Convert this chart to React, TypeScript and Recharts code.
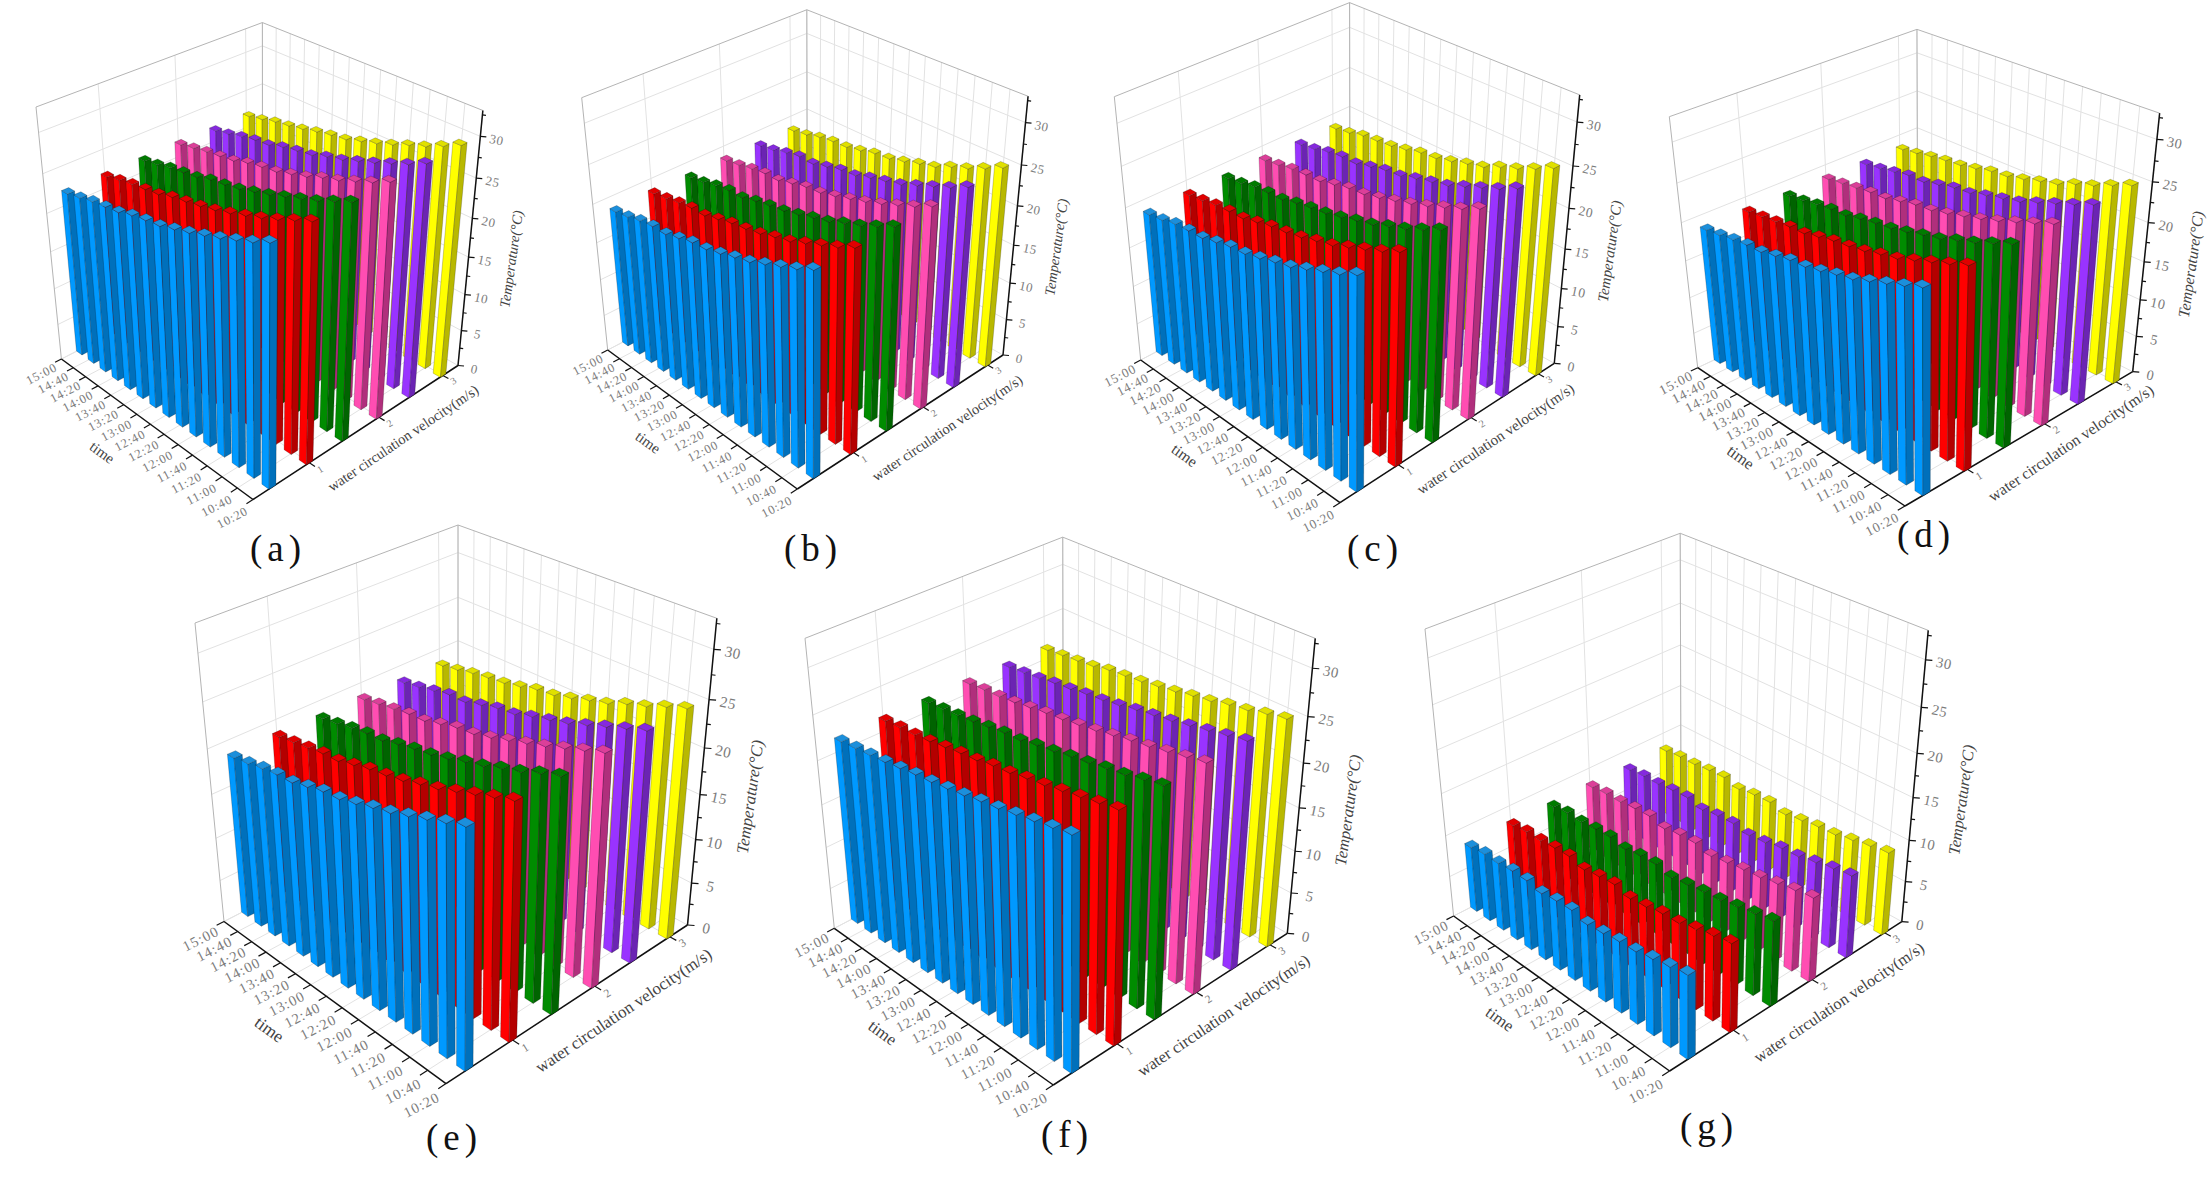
import React from 'react';
import { ScatterChart, Scatter, XAxis, YAxis } from 'recharts';

const PAGE_W = 2211;
const PAGE_H = 1179;
const Z_MAX = 33;

const timeLabels = ['10:20', '10:40', '11:00', '11:20', '11:40', '12:00', '12:20', '12:40', '13:00', '13:20', '13:40', '14:00', '14:20', '14:40', '15:00'];
const zTicks = [0, 5, 10, 15, 20, 25, 30];
const velocityTicks = [1, 3, 5]; // index of the series that sits on "1", "2", "3"
const velocityLabels = ['1', '2', '3'];

// one row per series (0.5 -> 3 m/s), values in time order 10:20 -> 15:00
const tempsA = [
  [30.0, 29.0, 28.2, 27.4, 26.7, 26.0, 25.4, 24.8, 24.5, 24.1, 23.5, 23.2, 22.9, 22.4, 22.0],
  [30.0, 29.1, 28.2, 27.4, 26.7, 26.0, 25.4, 24.9, 24.5, 24.1, 23.5, 23.2, 22.9, 22.5, 22.0],
  [29.9, 29.0, 28.1, 27.4, 26.7, 26.0, 25.4, 24.8, 24.4, 24.1, 23.5, 23.2, 22.9, 22.4, 22.0],
  [30.0, 29.0, 28.2, 27.4, 26.8, 26.0, 25.4, 24.8, 24.5, 24.1, 23.5, 23.2, 22.9, 22.5, 22.1],
  [30.0, 29.0, 28.2, 27.4, 26.7, 26.0, 25.5, 24.8, 24.5, 24.1, 23.5, 23.3, 22.9, 22.4, 22.0],
  [30.1, 29.1, 28.2, 27.5, 26.7, 26.0, 25.4, 24.8, 24.5, 24.1, 23.6, 23.2, 22.9, 22.4, 22.0],
];
const tempsB = [
  [25.8, 24.8, 24.0, 23.2, 22.4, 21.9, 21.3, 20.8, 20.6, 20.1, 19.6, 19.6, 19.3, 18.8, 18.5],
  [25.8, 24.8, 24.0, 23.2, 22.4, 21.9, 21.3, 20.9, 20.6, 20.1, 19.6, 19.6, 19.3, 18.9, 18.6],
  [25.8, 24.8, 23.9, 23.2, 22.4, 21.9, 21.3, 20.8, 20.5, 20.1, 19.6, 19.6, 19.3, 18.8, 18.5],
  [25.8, 24.8, 24.0, 23.2, 22.5, 21.9, 21.3, 20.8, 20.6, 20.1, 19.6, 19.6, 19.3, 18.9, 18.6],
  [25.8, 24.8, 24.0, 23.2, 22.4, 21.9, 21.4, 20.8, 20.6, 20.1, 19.6, 19.7, 19.3, 18.8, 18.5],
  [25.9, 24.9, 24.0, 23.3, 22.4, 21.9, 21.3, 20.8, 20.6, 20.1, 19.7, 19.6, 19.3, 18.8, 18.5],
];
const tempsC = [
  [25.9, 24.9, 24.1, 23.3, 22.5, 22.0, 21.4, 20.9, 20.7, 20.2, 19.7, 19.6, 19.4, 18.9, 18.6],
  [25.9, 24.9, 24.1, 23.3, 22.5, 22.0, 21.4, 21.0, 20.7, 20.2, 19.7, 19.6, 19.4, 19.0, 18.7],
  [25.9, 24.9, 24.0, 23.3, 22.5, 22.0, 21.4, 20.9, 20.6, 20.2, 19.7, 19.6, 19.4, 18.9, 18.6],
  [25.9, 24.9, 24.1, 23.3, 22.6, 22.0, 21.4, 20.9, 20.7, 20.2, 19.7, 19.6, 19.4, 19.0, 18.7],
  [25.9, 24.9, 24.1, 23.3, 22.5, 22.0, 21.5, 20.9, 20.7, 20.2, 19.7, 19.7, 19.4, 18.9, 18.6],
  [26.0, 25.0, 24.1, 23.4, 22.5, 22.0, 21.4, 20.9, 20.7, 20.2, 19.8, 19.6, 19.4, 18.9, 18.6],
];
const tempsD = [
  [25.7, 24.8, 24.0, 23.2, 22.4, 21.9, 21.3, 20.8, 20.6, 20.1, 19.6, 19.5, 19.2, 18.8, 18.5],
  [25.7, 24.8, 24.0, 23.2, 22.4, 21.9, 21.3, 20.9, 20.6, 20.1, 19.6, 19.5, 19.2, 18.9, 18.6],
  [25.7, 24.8, 23.9, 23.2, 22.4, 21.9, 21.3, 20.8, 20.5, 20.1, 19.6, 19.5, 19.2, 18.8, 18.5],
  [25.7, 24.8, 24.0, 23.2, 22.5, 21.9, 21.3, 20.8, 20.6, 20.1, 19.6, 19.5, 19.2, 18.9, 18.6],
  [25.7, 24.8, 24.0, 23.2, 22.4, 21.9, 21.4, 20.8, 20.6, 20.1, 19.6, 19.6, 19.2, 18.8, 18.5],
  [25.8, 24.9, 24.0, 23.3, 22.4, 21.9, 21.3, 20.8, 20.6, 20.1, 19.7, 19.5, 19.2, 18.8, 18.5],
];
const tempsE = [
  [25.2, 24.5, 23.8, 23.1, 22.4, 21.9, 21.3, 20.8, 20.6, 20.1, 19.6, 19.5, 19.2, 18.8, 18.5],
  [25.2, 24.5, 23.8, 23.1, 22.4, 21.9, 21.3, 20.9, 20.6, 20.1, 19.6, 19.5, 19.2, 18.9, 18.6],
  [25.2, 24.5, 23.7, 23.1, 22.4, 21.9, 21.3, 20.8, 20.5, 20.1, 19.6, 19.5, 19.2, 18.8, 18.5],
  [25.2, 24.5, 23.8, 23.1, 22.5, 21.9, 21.3, 20.8, 20.6, 20.1, 19.6, 19.5, 19.2, 18.9, 18.6],
  [25.2, 24.5, 23.8, 23.1, 22.4, 21.9, 21.4, 20.8, 20.6, 20.1, 19.6, 19.6, 19.2, 18.8, 18.5],
  [25.3, 24.6, 23.8, 23.2, 22.4, 21.9, 21.3, 20.8, 20.6, 20.1, 19.7, 19.5, 19.2, 18.8, 18.5],
];
const tempsF = [
  [25.9, 25.5, 25.1, 24.7, 24.3, 24.0, 23.6, 23.3, 23.0, 22.8, 22.5, 22.2, 22.0, 21.8, 21.6],
  [25.9, 25.5, 25.1, 24.7, 24.3, 24.0, 23.6, 23.4, 23.0, 22.8, 22.5, 22.2, 22.0, 21.9, 21.7],
  [25.9, 25.5, 25.0, 24.7, 24.3, 24.0, 23.6, 23.3, 22.9, 22.8, 22.5, 22.2, 22.0, 21.8, 21.6],
  [25.9, 25.5, 25.1, 24.7, 24.4, 24.0, 23.6, 23.3, 23.0, 22.8, 22.5, 22.2, 22.0, 21.9, 21.7],
  [25.9, 25.5, 25.1, 24.7, 24.3, 24.0, 23.7, 23.3, 23.0, 22.8, 22.5, 22.3, 22.0, 21.8, 21.6],
  [26.0, 25.6, 25.1, 24.8, 24.3, 24.0, 23.6, 23.3, 23.0, 22.8, 22.6, 22.2, 22.0, 21.8, 21.6],
];
const tempsG = [
  [9.8, 9.4, 9.0, 8.6, 8.5, 8.2, 8.0, 8.5, 8.4, 8.1, 8.5, 8.5, 8.3, 8.3, 8.0],
  [10.4, 10.0, 9.5, 9.0, 8.9, 8.5, 8.3, 8.8, 8.6, 8.3, 8.8, 8.7, 8.5, 8.5, 8.2],
  [10.1, 9.7, 9.3, 8.9, 8.7, 8.4, 8.1, 8.6, 8.5, 8.2, 8.6, 8.5, 8.3, 8.4, 8.1],
  [10.0, 9.7, 9.3, 8.9, 8.7, 8.4, 8.1, 8.6, 8.5, 8.2, 8.7, 8.6, 8.4, 8.4, 8.2],
  [9.9, 9.6, 9.2, 8.8, 8.7, 8.3, 8.1, 8.5, 8.4, 8.1, 8.6, 8.5, 8.3, 8.3, 8.1],
  [10.0, 9.7, 9.3, 8.9, 8.8, 8.5, 8.2, 8.7, 8.6, 8.3, 8.8, 8.7, 8.5, 8.5, 8.3],
];

const seriesColors = [
  { left: '#0099FF', right: '#0070BB', top: '#1C8FDB' },
  { left: '#FF0000', right: '#B40000', top: '#E00000' },
  { left: '#008C00', right: '#006400', top: '#007A00' },
  { left: '#FF4DB2', right: '#B02F7C', top: '#DB3F99' },
  { left: '#9933FF', right: '#6B24B3', top: '#8529DE' },
  { left: '#FFFF00', right: '#B8B800', top: '#E0E000' },
];

type Pt = [number, number];
interface Frame {
  name: string;
  temps: number[][];
  L: Pt; F: Pt; R: Pt; B: Pt; topL: Pt; topR: Pt;
  captionAt: Pt;
}

const frames: Frame[] = [
  { name: '(a)', temps: tempsA, L: [61.4, 359], F: [253, 499.5], R: [458, 365.5], B: [262.5, 256], topL: [36, 107], topR: [483, 109], captionAt: [278, 553] },
  { name: '(b)', temps: tempsB, L: [607.7, 350], F: [797.3, 489], R: [1003, 355], B: [807.3, 246], topL: [581.7, 97.7], topR: [1027.7, 100], captionAt: [813, 553] },
  { name: '(c)', temps: tempsC, L: [1140.7, 360], F: [1340, 502.7], R: [1554.3, 363.3], B: [1350, 250], topL: [1114.3, 96.7], topR: [1579.3, 99], captionAt: [1375, 553] },
  { name: '(d)', temps: tempsD, L: [1697.7, 367.7], F: [1905, 506], R: [2132.7, 371.7], B: [1917.7, 264], topL: [1669.3, 116.7], topR: [2159, 119.3], captionAt: [1926, 539] },
  { name: '(e)', temps: tempsE, L: [224, 921.5], F: [446, 1083.6], R: [687.5, 925], B: [458, 801], topL: [195, 623], topR: [716, 627], captionAt: [454, 1142] },
  { name: '(f)', temps: tempsF, L: [834.3, 928.3], F: [1053.3, 1085], R: [1287.3, 933.3], B: [1063.3, 809], topL: [805, 638.3], topR: [1315, 641], captionAt: [1067, 1139] },
  { name: '(g)', temps: tempsG, L: [1453.6, 916], F: [1669.6, 1071], R: [1901.8, 921.6], B: [1681, 800], topL: [1425, 629], topR: [1928, 633], captionAt: [1709, 1131] },
];

// perspective camera built from the corners of the plot box
// u: 0 at 15:00 edge, 1 at 10:20 edge. v: 0 at time axis, 1 at back wall. z: temperature
const makeProjection = (f: Frame) => {
  const [x0, y0] = f.L, [x1, y1] = f.F, [x2, y2] = f.R, [x3, y3] = f.B;
  const dx1 = x1 - x2, dx2 = x3 - x2, sx = x0 - x1 + x2 - x3;
  const dy1 = y1 - y2, dy2 = y3 - y2, sy = y0 - y1 + y2 - y3;
  const den = dx1 * dy2 - dx2 * dy1;
  const g = (sx * dy2 - dx2 * sy) / den;
  const h = (dx1 * sy - sx * dy1) / den;
  const a = x1 - x0 + g * x1, b = x3 - x0 + h * x3;
  const d = y1 - y0 + g * y1, e = y3 - y0 + h * y3;

  // vanishing point of the verticals
  const [ax, ay] = f.topL, [cx, cy] = f.topR;
  const m1 = (x0 - ax) / (y0 - ay), m2 = (x2 - cx) / (y2 - cy);
  const Vy = (cx - ax + m1 * ay - m2 * cy) / (m1 - m2);
  const Vx = ax + m1 * (Vy - ay);
  const s = (ay - y0) / (Vy - ay);

  return (u: number, v: number, temp: number): Pt => {
    const z = temp / Z_MAX;
    const w = g * u + h * v + 1 + s * z;
    return [(a * u + b * v + x0 + s * Vx * z) / w, (d * u + e * v + y0 + s * Vy * z) / w];
  };
};

const uOf = (timeIndex: number) => 0.985 - (0.97 * timeIndex) / 14;
const vOf = (seriesIndex: number) => (seriesIndex + 0.5) / 6;
const HALF_U = 0.0165;
const HALF_V = 0.0148;

const buildPanel = (f: Frame) => {
  const P = makeProjection(f);
  const grid: any[] = [];
  const axes: any[] = [];
  const bars: any[] = [];
  const texts: any[] = [];
  const seg = (list: any[], p: Pt, q: Pt, color: string, w: number) =>
    list.push({ x: p[0], y: p[1], x2: q[0], y2: q[1], color, w });
  const scale = Math.abs(f.R[0] - f.L[0]) / 397;
  const gridColor = '#E2E2E2';
  const edgeColor = '#B4B4B4';
  const labelColor = '#7C7C7C';

  // walls and floor
  zTicks.slice(1).forEach((t) => {
    seg(grid, P(0, 0, t), P(0, 1, t), gridColor, 1);
    seg(grid, P(0, 1, t), P(1, 1, t), gridColor, 1);
  });
  timeLabels.forEach((_, i) => {
    const u = 1 - i / 14;
    seg(grid, P(u, 1, 0), P(u, 1, Z_MAX), gridColor, 1);
    seg(grid, P(u, 0, 0), P(u, 1, 0), gridColor, 1);
  });
  velocityTicks.forEach((si) => {
    const v = vOf(si);
    seg(grid, P(0, v, 0), P(0, v, Z_MAX), gridColor, 1);
    seg(grid, P(0, v, 0), P(1, v, 0), gridColor, 1);
  });
  seg(grid, P(0, 0, 0), P(0, 1, 0), gridColor, 1);
  seg(grid, P(0, 1, 0), P(1, 1, 0), gridColor, 1);
  seg(grid, P(0, 0, 0), P(0, 0, Z_MAX), edgeColor, 1);
  seg(grid, P(0, 1, 0), P(0, 1, Z_MAX), edgeColor, 1);
  seg(grid, P(0, 0, Z_MAX), P(0, 1, Z_MAX), edgeColor, 1);
  seg(grid, P(0, 1, Z_MAX), P(1, 1, Z_MAX), edgeColor, 1);

  // axes
  seg(axes, P(0, 0, 0), P(1, 0, 0), '#111', 1.5);
  seg(axes, P(1, 0, 0), P(1, 1, 0), '#111', 1.5);
  seg(axes, P(1, 1, 0), P(1, 1, Z_MAX), '#111', 1.5);
  timeLabels.forEach((label, i) => {
    const u = 1 - i / 14;
    seg(axes, P(u, 0, 0), P(u, -0.028, 0), '#111', 1.2);
    const [x, y] = P(u, -0.085, 0);
    texts.push({ x, y: y + 6 * scale, text: label, angle: -27, size: 12.5 * scale, color: labelColor, spacing: 0.9 * scale });
  });
  velocityTicks.forEach((si, i) => {
    seg(axes, P(1, vOf(si), 0), P(1.025, vOf(si), 0), '#111', 1.2);
    const [x, y] = P(1.05, vOf(si), 0);
    texts.push({ x, y, text: velocityLabels[i], angle: -32, size: 10 * scale, color: labelColor });
  });
  for (let t = 0; t <= 32.5; t += 2.5) {
    const major = t % 5 === 0;
    const [px, py] = P(1, 1, t);
    seg(axes, [px, py], [px + (major ? 6 : 3.5) * scale, py + 0.5], '#111', 1.2);
    if (major) {
      texts.push({ x: px + 16 * scale, y: py + 5, text: String(t), angle: 12, size: 13 * scale, color: labelColor, spacing: 0.5 });
    }
  }
  const tp = P(0.62, -0.245, 0);
  texts.push({ x: tp[0] - 14 * scale, y: tp[1] - 22 * scale, text: 'time', angle: 36, size: 15 * scale, color: '#444' });
  const vp = P(1.2, 0.52, 0);
  texts.push({ x: vp[0] - 8 * scale, y: vp[1] - 15 * scale, text: 'water circulation velocity(m/s)', angle: -34, size: 14.5 * scale, color: '#444' });
  const zp = P(1, 1, 15.5);
  texts.push({ x: zp[0] + 44 * scale, y: zp[1] + 6 * scale, text: 'Temperature(°C)', angle: -82, size: 14.5 * scale, color: '#444', italic: true });
  texts.push({ x: f.captionAt[0], y: f.captionAt[1], text: f.name, angle: 0, size: 37, color: '#111', spacing: 5 });

  // bars, back to front
  for (let si = 5; si >= 0; si--) {
    for (let ti = 14; ti >= 0; ti--) {
      const u = uOf(ti), v = vOf(si), temp = f.temps[si][ti];
      const lo = (uu: number, vv: number) => P(uu, vv, 0);
      const hi = (uu: number, vv: number) => P(uu, vv, temp);
      const [x, y] = P(u, v, 0);
      bars.push({
        x, y, time: timeLabels[ti], temp,
        color: seriesColors[si],
        leftFace: [lo(u - HALF_U, v - HALF_V), lo(u + HALF_U, v - HALF_V), hi(u + HALF_U, v - HALF_V), hi(u - HALF_U, v - HALF_V)],
        rightFace: [lo(u + HALF_U, v - HALF_V), lo(u + HALF_U, v + HALF_V), hi(u + HALF_U, v + HALF_V), hi(u + HALF_U, v - HALF_V)],
        topFace: [hi(u - HALF_U, v - HALF_V), hi(u + HALF_U, v - HALF_V), hi(u + HALF_U, v + HALF_V), hi(u - HALF_U, v + HALF_V)],
      });
    }
  }
  return { grid, axes, bars, texts };
};

const panels = frames.map(buildPanel);

const SegmentMark = (props: any) => {
  const { cx, cy, payload } = props;
  return <line x1={cx} y1={cy} x2={cx + payload.x2 - payload.x} y2={cy + payload.y2 - payload.y} stroke={payload.color} strokeWidth={payload.w} />;
};

const BarMark = (props: any) => {
  const { cx, cy, payload } = props;
  const pts = (face: Pt[]) => face.map((p) => `${p[0] - payload.x + cx},${p[1] - payload.y + cy}`).join(' ');
  const edge = { stroke: 'rgba(0,0,0,0.4)', strokeWidth: 0.5 };
  return (
    <g>
      <polygon points={pts(payload.leftFace)} fill={payload.color.left} {...edge} />
      <polygon points={pts(payload.rightFace)} fill={payload.color.right} {...edge} />
      <polygon points={pts(payload.topFace)} fill={payload.color.top} {...edge} />
    </g>
  );
};

const TextMark = (props: any) => {
  const { cx, cy, payload } = props;
  return (
    <text
      x={cx}
      y={cy}
      transform={`rotate(${payload.angle} ${cx} ${cy})`}
      textAnchor="middle"
      dominantBaseline="middle"
      fontFamily="'Liberation Serif', serif"
      fontSize={payload.size}
      fontStyle={payload.italic ? 'italic' : 'normal'}
      letterSpacing={payload.spacing || 0}
      fill={payload.color}
    >
      {payload.text}
    </text>
  );
};

export default function App() {
  return (
    <div style={{ position: 'absolute', left: 0, top: 0, width: PAGE_W, height: PAGE_H, background: '#fff' }}>
      <ScatterChart width={PAGE_W} height={PAGE_H} margin={{ top: 0, right: 0, bottom: 0, left: 0 }}>
        <XAxis type="number" dataKey="x" domain={[0, PAGE_W]} hide />
        <YAxis type="number" dataKey="y" domain={[0, PAGE_H]} reversed hide />
        {panels.map((p, i) => <Scatter key={`grid-${i}`} data={p.grid} shape={SegmentMark} isAnimationActive={false} />)}
        {panels.map((p, i) => <Scatter key={`axes-${i}`} data={p.axes} shape={SegmentMark} isAnimationActive={false} />)}
        {panels.map((p, i) => <Scatter key={`bars-${i}`} data={p.bars} shape={BarMark} isAnimationActive={false} />)}
        {panels.map((p, i) => <Scatter key={`text-${i}`} data={p.texts} shape={TextMark} isAnimationActive={false} />)}
      </ScatterChart>
    </div>
  );
}
